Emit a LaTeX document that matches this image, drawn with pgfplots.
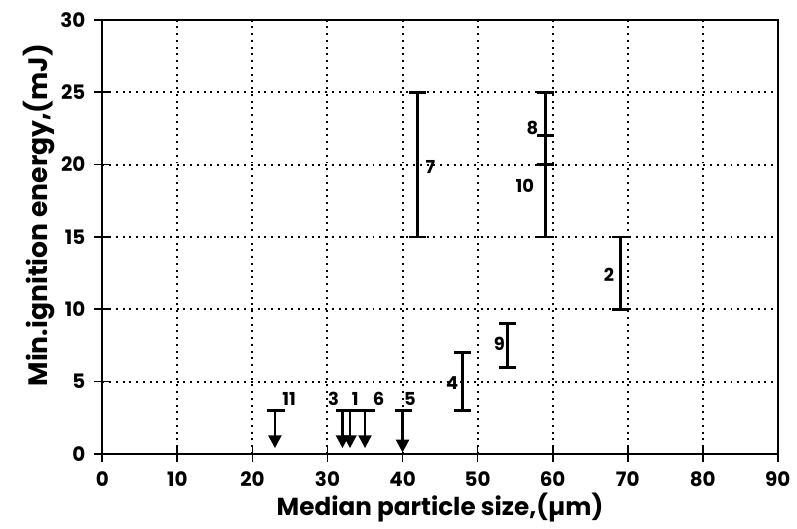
\documentclass[border=0pt]{standalone}
\usepackage{fontspec}
\setmainfont{Poppins}
\usepackage{pgfplots}
\pgfplotsset{compat=1.18}
\usepackage{pgfplotstable}
\usetikzlibrary{arrows.meta}

% ranges: x, centre, half width
\pgfplotstableread{
x    ymid  err
42   20    5
59   23.5  1.5
59   17.5  2.5
69   12.5  2.5
54   7.5   1.5
48   5     2
}\ranges

\begin{document}
\begin{tikzpicture}
\begin{axis}[
  scale only axis,
  width=340pt, height=218.5pt,
  xmin=0, xmax=90, ymin=0, ymax=30,
  xtick={0,10,...,90}, ytick={0,5,...,30},
  tick pos=left, tick align=center,
  major tick length=8pt,
  axis line style={line width=1.1pt},
  tick style={line width=0.9pt, black},
  grid=major,
  grid style={black, line width=1pt, dash pattern=on 1pt off 2.4pt},
  /pgf/number format/assume math mode=true,
  tick label style={font=\bfseries\fontsize{10}{11}\selectfont},
  xticklabel style={anchor=center, yshift=-8.8pt},
  yticklabel style={anchor=east, xshift=-1pt},
  every axis x label/.style={at={(axis description cs:0.5,-0.123)}, anchor=center,
    font=\bfseries\fontsize{12.4}{14}\selectfont},
  every axis y label/.style={at={(axis description cs:-0.093,0.55)}, anchor=center, rotate=90,
    font=\bfseries\fontsize{13.4}{15}\selectfont},
  xlabel={Median particle size,(µm)},
  ylabel={Min.ignition energy,(mJ)},
  clip=false,
]
  % measured ranges
  \addplot[draw=none, mark=none,
    error bars/.cd, y dir=both, y explicit,
    error bar style={line width=1.4pt, black},
    error mark options={rotate=90, mark size=4.3pt, line width=1.4pt, black}]
    table[x=x, y=ymid, y error=err] {\ranges};
  \addplot[black, line width=1.4pt] coordinates {(59,20)(59,22)};

  % upper limits (arrows)
  \addplot[black, line width=1.4pt] coordinates {(21.9,3)(24.4,3)};
  \addplot[black, line width=1.4pt] coordinates {(31.2,3)(36.3,3)};
  \addplot[black, line width=1.4pt] coordinates {(39,3)(41.2,3)};
  \addplot[black, line width=1.4pt, -{Triangle[width=6.5pt,length=6.5pt]}] coordinates {(23,3)(23,0.4)};
  \addplot[black, line width=1.4pt, -{Triangle[width=6.5pt,length=6.5pt]}] coordinates {(32,3)(32,0.4)};
  \addplot[black, line width=1.4pt, -{Triangle[width=6.5pt,length=6.5pt]}] coordinates {(33,3)(33,0.4)};
  \addplot[black, line width=1.4pt, -{Triangle[width=6.5pt,length=6.5pt]}] coordinates {(35,3)(35,0.4)};
  \addplot[black, line width=1.4pt, -{Triangle[width=6.5pt,length=6.5pt]}] coordinates {(40,3)(40,0.1)};

  % sample numbers
  \begin{scope}[every node/.style={font=\bfseries\fontsize{9}{10}\selectfont, inner sep=0pt}]
    \node at (axis cs:24.9,3.8) {11};
    \node at (axis cs:30.8,3.8) {3};
    \node at (axis cs:33.7,3.8) {1};
    \node at (axis cs:36.8,3.8) {6};
    \node at (axis cs:41.0,3.8) {5};
    \node at (axis cs:43.7,19.8) {7};
    \node at (axis cs:57.3,22.5) {8};
    \node at (axis cs:56.3,18.5) {10};
    \node at (axis cs:67.5,12.4) {2};
    \node at (axis cs:52.9,7.6) {9};
    \node at (axis cs:46.6,4.9) {4};
  \end{scope}
\end{axis}
% page frame with the reference margins
\path ([shift={(-51.5pt,-34pt)}]current axis.south west) rectangle ([shift={(7pt,10pt)}]current axis.north east);
\end{tikzpicture}
\end{document}
